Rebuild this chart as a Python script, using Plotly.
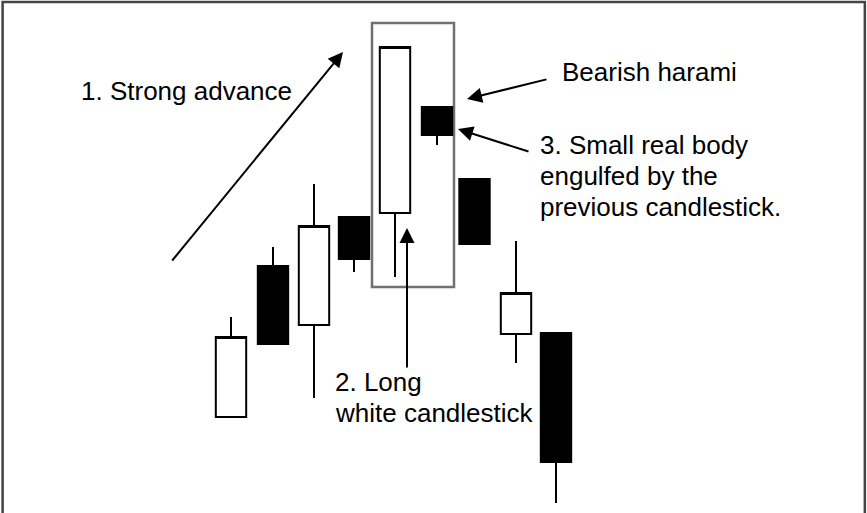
"""
Bearish harami candlestick illustration
"""
import plotly.graph_objects as go

# candle positions (x) and prices
days = [231, 273, 314, 354, 395, 437, 474.5, 516, 556]
opens = [9.6, 24.7, 18.8, 29.6, 30.0, 40.6, 33.4, 17.9, 18.0]
highs = [19.6, 26.6, 32.9, 29.6, 46.6, 40.6, 33.4, 27.2, 18.0]
lows = [9.6, 16.9, 11.5, 24.1, 23.6, 36.8, 26.9, 15.0, 1.0]
closes = [17.6, 16.9, 28.7, 25.4, 46.6, 37.8, 26.9, 22.0, 5.1]

# harami highlight box (x0, x1, y0, y1)
harami_box = [372, 454, 22.6, 49.0]

# text labels: (x, y, text)
labels = [
    (79, 42.2, '1. Strong advance'),
    (560, 44.1, 'Bearish harami'),
    (538, 36.8, '3. Small real body'),
    (538, 33.7, 'engulfed by the'),
    (538, 30.6, 'previous candlestick.'),
    (333, 13.1, '2. Long'),
    (333, 10.0, 'white candlestick'),
]

# arrows: (tail x, tail y, head x, head y)
arrows = [
    (171, 25.1, 343, 46.1),
    (548, 43.4, 467, 41.4),
    (530, 36.1, 458, 38.4),
    (407, 14.4, 407, 28.5),
]

fig = go.Figure()

fig.add_trace(go.Candlestick(
    x=days,
    open=opens,
    high=highs,
    low=lows,
    close=closes,
    increasing=dict(line=dict(color='black', width=2), fillcolor='white'),
    decreasing=dict(line=dict(color='black', width=2), fillcolor='black'),
    whiskerwidth=0,
    hoverinfo='skip',
    showlegend=False
))

fig.add_shape(
    type='rect',
    x0=harami_box[0], x1=harami_box[1], y0=harami_box[2], y1=harami_box[3],
    line=dict(color='#707070', width=2.5),
    fillcolor='rgba(0,0,0,0)',
    layer='below'
)

# outer frame (bottom edge falls outside the picture)
fig.add_shape(
    type='rect', xref='paper', yref='paper',
    x0=0.003, x1=0.9975, y0=-0.1, y1=0.996,
    line=dict(color='#444444', width=2.5)
)

for x, y, text in labels:
    fig.add_annotation(
        x=x, y=y, text=text, showarrow=False,
        xanchor='left', yanchor='middle',
        font=dict(family='Liberation Sans, Arial', size=26, color='black')
    )

for tx, ty, hx, hy in arrows:
    fig.add_annotation(
        x=hx, y=hy, ax=tx, ay=ty,
        axref='x', ayref='y', text='',
        showarrow=True, arrowhead=2, arrowsize=1.5,
        arrowwidth=2, arrowcolor='black'
    )

fig.update_layout(
    width=867,
    height=513,
    margin=dict(l=0, r=0, t=0, b=0),
    paper_bgcolor='white',
    plot_bgcolor='white',
    boxgap=0.1,
    boxgroupgap=0.1,
    xaxis=dict(range=[0, 867], visible=False, rangeslider=dict(visible=False)),
    yaxis=dict(range=[0, 51.3], visible=False),
    showlegend=False
)

fig.write_html(
    "out.html",
    config={'displayModeBar': False},
    post_script="document.body.style.margin='0';"
)
